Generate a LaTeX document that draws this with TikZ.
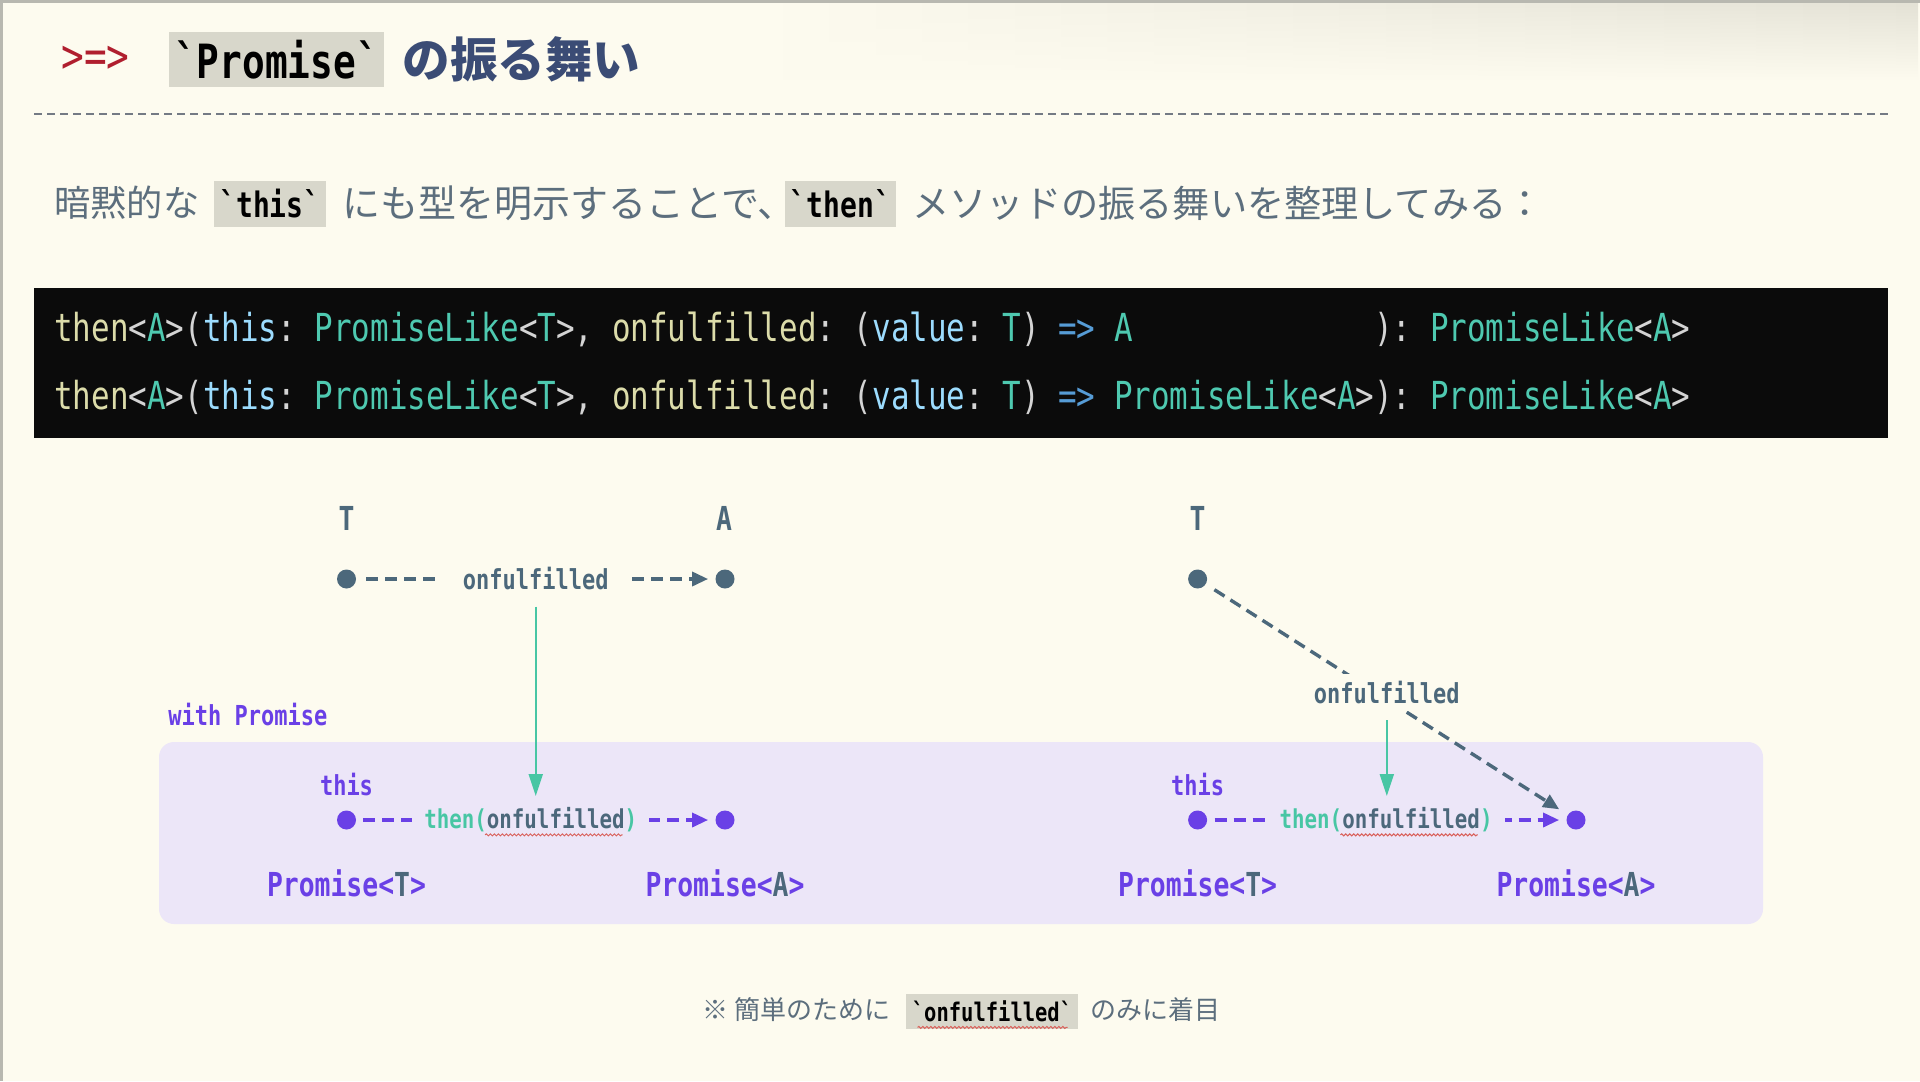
\documentclass[tikz,border=0pt]{standalone}
\usepackage{fontspec}
\usetikzlibrary{arrows.meta,calc,decorations.pathmorphing,fadings}
\newfontfamily\jpfont{Noto Sans CJK JP}
\setmonofont[FakeStretch=0.8]{DejaVu Sans Mono}
\newcommand\codefont{\ttfamily}
\newdimen\pxu \pxu=0.5pt
\definecolor{bg}{HTML}{FDFBEF}
\definecolor{framec}{HTML}{B8B8B0}
\definecolor{shadowc}{HTML}{E4E2D6}
\definecolor{titlered}{HTML}{B01E2E}
\definecolor{titleblue}{HTML}{3B4C75}
\definecolor{subgray}{HTML}{5C6E7D}
\definecolor{codebg}{HTML}{D8D7CB}
\definecolor{blockbg}{HTML}{0B0B0B}
\definecolor{sepgray}{HTML}{747A84}
\definecolor{slate}{HTML}{4C687B}
\definecolor{purp}{HTML}{6A40E6}
\definecolor{tealc}{HTML}{48C6A4}
\definecolor{lav}{HTML}{ECE6F8}
\definecolor{squigc}{HTML}{D9605A}
\definecolor{cfun}{HTML}{DCDCAA}
\definecolor{cpun}{HTML}{D4D4D4}
\definecolor{ctyp}{HTML}{4EC9B0}
\definecolor{cpar}{HTML}{9CDCFE}
\definecolor{ckey}{HTML}{569CD6}
\newcommand\kfun[1]{\textcolor{cfun}{#1}}
\newcommand\kpun[1]{\textcolor{cpun}{#1}}
\newcommand\ktyp[1]{\textcolor{ctyp}{#1}}
\newcommand\kpar[1]{\textcolor{cpar}{#1}}
\newcommand\kkey[1]{\textcolor{ckey}{#1}}
\newcommand\ksp{\phantom{x}}
\newcommand\bq{\char"60\relax}
\tikzset{
  txt/.style={anchor=west, inner sep=0},
  codebox/.style={fill=codebg, inner sep=0, text=black},
  dotslate/.style={circle, fill=slate, inner sep=0, minimum size=19\pxu},
  dotpurp/.style={circle, fill=purp, inner sep=0, minimum size=19\pxu},
  lbl/.style={font=\codefont\bfseries\fontsize{13.75}{16}\selectfont, text=slate},
  typelbl/.style={font=\codefont\bfseries\fontsize{16.5}{19}\selectfont, text=slate},
  plbl/.style={font=\codefont\bfseries\fontsize{13.75}{16}\selectfont, text=purp},
  biglbl/.style={font=\codefont\bfseries\fontsize{16.5}{19}\selectfont, text=purp},
  thenlbl/.style={font=\codefont\bfseries\fontsize{13}{16}\selectfont, fill=lav, inner xsep=6pt, inner ysep=3pt},
  slatedash/.style={draw=slate, line width=3.4\pxu, dash pattern=on 6pt off 3.5pt, -{Triangle[length=8pt,width=7pt]}, shorten <=5pt, shorten >=3.5pt},
  purpdash/.style={draw=purp, line width=3.4\pxu, dash pattern=on 6pt off 3.5pt, -{Triangle[length=8pt,width=7pt]}, shorten <=3.5pt, shorten >=3.5pt},
  tealarrow/.style={draw=tealc, line width=2\pxu, -{Triangle[length=11pt,width=7pt]}},
  squig/.style={draw=squigc, line width=0.5pt, decorate, decoration={snake, amplitude=0.5pt, segment length=2pt}}
}
\begin{document}
\begin{tikzpicture}[x=0.5pt, y=-0.5pt]
\useasboundingbox (0,0) rectangle (1920,1081);
% background and frame
\fill[bg] (0,0) rectangle (1920,1081);
\shade[left color=bg, right color=shadowc, path fading=south] (760,3) rectangle (1920,80);
\fill[framec] (0,0) rectangle (1920,3);
\fill[framec] (0,0) rectangle (3,1081);

% title
\node[txt, text=titlered, font=\codefont\fontsize{23.6}{28}\selectfont] (arrowmark) at (61,59) {>=>};
\node[codebox, minimum width=215\pxu, minimum height=55\pxu, font=\codefont\bfseries\fontsize{23.6}{28}\selectfont] (titlecode) at (276.5,59.5) {\bq Promise\bq};
\node[txt, text=titleblue, font=\jpfont\bfseries\fontsize{23.8}{28}\selectfont] (titlejp) at (402,59) {の振る舞い};
\coordinate (sepL) at (34,114);
\coordinate (sepR) at (1889,114);
\draw[sepgray, line width=2\pxu, dash pattern=on 4pt off 2.5pt] (sepL) -- (sepR);

% subtitle
\node[txt, text=subgray, font=\jpfont\fontsize{18.1}{22}\selectfont] (sub1) at (54,203) {暗黙的な};
\node[codebox, minimum width=112\pxu, minimum height=46\pxu, font=\codefont\bfseries\fontsize{17.5}{21}\selectfont] (subthis) at (270,204) {\bq this\bq};
\node[txt, text=subgray, font=\jpfont\fontsize{19}{22}\selectfont] (sub2) at (342,203) {にも型を明示することで、};
\node[codebox, minimum width=111\pxu, minimum height=46\pxu, font=\codefont\bfseries\fontsize{17.5}{21}\selectfont] (subthen) at (840.5,204) {\bq then\bq};
\node[txt, text=subgray, font=\jpfont\fontsize{18.6}{22}\selectfont] (sub3) at (912,203) {メソッドの振る舞いを整理してみる：};

% code block
\node[fill=blockbg, minimum width=1854\pxu, minimum height=150\pxu, inner sep=0] (codeblock) at (961,363) {};
\node[txt, font=\codefont\fontsize{19.3}{23}\selectfont] (line1) at (54,329) {\kfun{then}\kpun{<}\ktyp{A}\kpun{>(}\kpar{this}\kpun{:}\ksp\ktyp{PromiseLike}\kpun{<}\ktyp{T}\kpun{>,}\ksp\kfun{onfulfilled}\kpun{:}\ksp\kpun{(}\kpar{value}\kpun{:}\ksp\ktyp{T}\kpun{)}\ksp\kkey{=>}\ksp\ktyp{A}\phantom{romiseLike<A>}\kpun{):}\ksp\ktyp{PromiseLike}\kpun{<}\ktyp{A}\kpun{>}};
\node[txt, font=\codefont\fontsize{19.3}{23}\selectfont] (line2) at (54,397) {\kfun{then}\kpun{<}\ktyp{A}\kpun{>(}\kpar{this}\kpun{:}\ksp\ktyp{PromiseLike}\kpun{<}\ktyp{T}\kpun{>,}\ksp\kfun{onfulfilled}\kpun{:}\ksp\kpun{(}\kpar{value}\kpun{:}\ksp\ktyp{T}\kpun{)}\ksp\kkey{=>}\ksp\ktyp{PromiseLike}\kpun{<}\ktyp{A}\kpun{>):}\ksp\ktyp{PromiseLike}\kpun{<}\ktyp{A}\kpun{>}};

% lavender region
\fill[lav, rounded corners=7.5pt] (159,742) rectangle (1763,924);
\node[txt, plbl] (withp) at (168,715) {with Promise};

% left diagram
\node[typelbl] (labT1) at (346.5,518) {T};
\node[typelbl] (labA1) at (724,518) {A};
\node[dotslate] (t1) at (346.5,579) {};
\node[dotslate] (a1) at (725,579) {};
\draw[slatedash] (t1) -- node[lbl, fill=bg, inner xsep=11pt] (onf1) {onfulfilled} (a1);
\node[plbl] (this1) at (346.5,785) {this};
\node[dotpurp] (p1) at (346.5,820) {};
\node[dotpurp] (p2) at (725,820) {};
\draw[purpdash] (p1) -- node[thenlbl, pos=0.486] (then1) {\textcolor{tealc}{then(}\textcolor{slate}{onfulfilled}\textcolor{tealc}{)}} (p2);
\draw[tealarrow, shorten <=4pt, shorten >=2pt] (onf1.south) -- (onf1.south |- then1.north);
\node[biglbl] (prT1) at (346.5,883) {Promise<\textcolor{slate}{T}>};
\node[biglbl] (prA1) at (725,883) {Promise<\textcolor{slate}{A}>};

% right diagram
\node[typelbl] (labT3) at (1197.6,518) {T};
\node[dotslate] (t3) at (1197.6,579) {};
\node[plbl] (this2) at (1197.6,785) {this};
\node[dotpurp] (p3) at (1197.6,820) {};
\node[dotpurp] (p4) at (1576,820) {};
\draw[slatedash, shorten >=5pt] (t3) -- node[lbl, fill=bg, pos=0.5, yshift=3.5pt, inner xsep=4pt] (onf2) {onfulfilled} (p4);
\draw[purpdash] (p3) -- node[thenlbl, pos=0.498] (then2) {\textcolor{tealc}{then(}\textcolor{slate}{onfulfilled}\textcolor{tealc}{)}} (p4);
\draw[tealarrow, shorten <=4pt, shorten >=2pt] (onf2.south) -- (onf2.south |- then2.north);
\node[biglbl] (prT2) at (1197.6,883) {Promise<\textcolor{slate}{T}>};
\node[biglbl] (prA2) at (1576,883) {Promise<\textcolor{slate}{A}>};

% spell-check squiggles
\draw[squig] ($(then1.base west)+(74.5,6)$) -- ++(137.5,0);
\draw[squig] ($(then2.base west)+(74.5,6)$) -- ++(137.5,0);

% footnote
\node[txt, text=subgray, font=\jpfont\fontsize{13}{16}\selectfont] (fn1) at (702,1010) {※ 簡単のために};
\node[codebox, minimum width=172\pxu, minimum height=35\pxu, font=\codefont\bfseries\fontsize{12.8}{15}\selectfont] (fncode) at (992,1011.5) {\bq onfulfilled\bq};
\node[txt, text=subgray, font=\jpfont\fontsize{13}{16}\selectfont] (fn2) at (1090,1010) {のみに着目};
\draw[squig] ($(fncode.south west)+(12,-2)$) -- ++(150,0);
\end{tikzpicture}
\end{document}
